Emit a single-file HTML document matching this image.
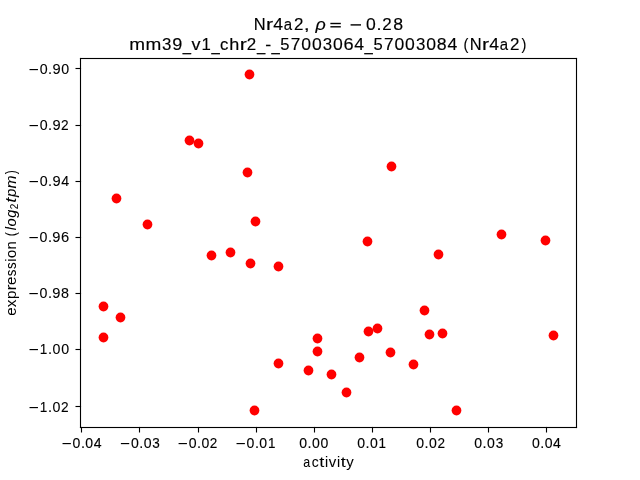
<!DOCTYPE html>
<html><head><meta charset="utf-8"><title>Nr4a2 scatter</title><style>
html,body{margin:0;padding:0;background:#fff;width:640px;height:480px;overflow:hidden}
svg{display:block;will-change:transform}
text{font-family:"Liberation Sans",sans-serif;fill:#000;stroke:#000;stroke-width:0.05px}
.tt text{stroke-width:0.15px}
.xt text{stroke-width:0.13px}
.yt text{stroke-width:0.1px}
.yl text{stroke-width:0.02px}
.xl text{stroke-width:0.05px}
</style></head><body>
<svg width="640" height="480" viewBox="0 0 640 480">
<rect width="640" height="480" fill="#fff"/>
<g fill="#000">
<rect x="79.945" y="57.945" width="497.110" height="1.110"/>
<rect x="79.945" y="426.945" width="497.110" height="1.110"/>
<rect x="79.945" y="57.945" width="1.110" height="370.110"/>
<rect x="575.945" y="57.945" width="1.110" height="370.110"/>
<rect x="80.945" y="426.945" width="1.110" height="5.555"/>
<rect x="138.945" y="426.945" width="1.110" height="5.555"/>
<rect x="197.945" y="426.945" width="1.110" height="5.555"/>
<rect x="255.945" y="426.945" width="1.110" height="5.555"/>
<rect x="313.945" y="426.945" width="1.110" height="5.555"/>
<rect x="371.945" y="426.945" width="1.110" height="5.555"/>
<rect x="429.945" y="426.945" width="1.110" height="5.555"/>
<rect x="487.945" y="426.945" width="1.110" height="5.555"/>
<rect x="545.945" y="426.945" width="1.110" height="5.555"/>
<rect x="75.500" y="67.945" width="5.555" height="1.110"/>
<rect x="75.500" y="124.945" width="5.555" height="1.110"/>
<rect x="75.500" y="180.945" width="5.555" height="1.110"/>
<rect x="75.500" y="236.945" width="5.555" height="1.110"/>
<rect x="75.500" y="292.945" width="5.555" height="1.110"/>
<rect x="75.500" y="348.945" width="5.555" height="1.110"/>
<rect x="75.500" y="405.945" width="5.555" height="1.110"/>
</g>
<g fill="#ff0000">
<circle cx="249.50" cy="74.50" r="4.88"/>
<circle cx="189.50" cy="140.50" r="4.88"/>
<circle cx="198.50" cy="143.50" r="4.88"/>
<circle cx="247.50" cy="172.50" r="4.88"/>
<circle cx="391.50" cy="166.50" r="4.88"/>
<circle cx="116.50" cy="198.50" r="4.88"/>
<circle cx="255.50" cy="221.50" r="4.88"/>
<circle cx="147.50" cy="224.50" r="4.88"/>
<circle cx="367.50" cy="241.50" r="4.88"/>
<circle cx="501.50" cy="234.50" r="4.88"/>
<circle cx="545.50" cy="240.50" r="4.88"/>
<circle cx="211.50" cy="255.50" r="4.88"/>
<circle cx="230.50" cy="252.50" r="4.88"/>
<circle cx="250.50" cy="263.50" r="4.88"/>
<circle cx="278.50" cy="266.50" r="4.88"/>
<circle cx="438.50" cy="254.50" r="4.88"/>
<circle cx="103.50" cy="306.50" r="4.88"/>
<circle cx="120.50" cy="317.50" r="4.88"/>
<circle cx="424.50" cy="310.50" r="4.88"/>
<circle cx="368.50" cy="331.50" r="4.88"/>
<circle cx="377.50" cy="328.50" r="4.88"/>
<circle cx="103.50" cy="337.50" r="4.88"/>
<circle cx="317.50" cy="338.50" r="4.88"/>
<circle cx="429.50" cy="334.50" r="4.88"/>
<circle cx="442.50" cy="333.50" r="4.88"/>
<circle cx="553.50" cy="335.50" r="4.88"/>
<circle cx="317.50" cy="351.50" r="4.88"/>
<circle cx="390.50" cy="352.50" r="4.88"/>
<circle cx="359.50" cy="357.50" r="4.88"/>
<circle cx="278.50" cy="363.50" r="4.88"/>
<circle cx="413.50" cy="364.50" r="4.88"/>
<circle cx="308.50" cy="370.50" r="4.88"/>
<circle cx="331.50" cy="374.50" r="4.88"/>
<circle cx="346.50" cy="392.50" r="4.88"/>
<circle cx="254.50" cy="410.50" r="4.88"/>
<circle cx="456.50" cy="410.50" r="4.88"/>
</g>
<g fill="#000">
<g class="xt">
<rect x="62.53" y="443.00" width="8.35" height="1.16"/>
<text transform="translate(72.62,448.00) scale(0.955,1)" font-size="14.722">0</text>
<text transform="translate(80.88,448.00) scale(0.980,1)" font-size="14.722">.</text>
<text transform="translate(85.34,448.00) scale(0.955,1)" font-size="14.722">0</text>
<text transform="translate(93.82,448.00) scale(0.955,1)" font-size="14.722">4</text>
<rect x="120.89" y="443.00" width="8.35" height="1.16"/>
<text transform="translate(130.98,448.00) scale(0.955,1)" font-size="14.722">0</text>
<text transform="translate(139.24,448.00) scale(0.980,1)" font-size="14.722">.</text>
<text transform="translate(143.70,448.00) scale(0.955,1)" font-size="14.722">0</text>
<text transform="translate(152.35,448.00) scale(0.917,1)" font-size="14.722">3</text>
<rect x="178.58" y="443.00" width="8.35" height="1.16"/>
<text transform="translate(188.67,448.00) scale(0.955,1)" font-size="14.722">0</text>
<text transform="translate(196.93,448.00) scale(0.980,1)" font-size="14.722">.</text>
<text transform="translate(201.39,448.00) scale(0.955,1)" font-size="14.722">0</text>
<text transform="translate(209.84,448.00) scale(0.920,1)" font-size="14.722">2</text>
<rect x="236.53" y="443.00" width="8.35" height="1.16"/>
<text transform="translate(246.62,448.00) scale(0.955,1)" font-size="14.722">0</text>
<text transform="translate(254.88,448.00) scale(0.980,1)" font-size="14.722">.</text>
<text transform="translate(259.34,448.00) scale(0.955,1)" font-size="14.722">0</text>
<text transform="translate(267.94,448.00) scale(0.912,1)" font-size="14.722">1</text>
<text transform="translate(299.28,448.00) scale(0.955,1)" font-size="14.722">0</text>
<text transform="translate(307.54,448.00) scale(0.980,1)" font-size="14.722">.</text>
<text transform="translate(312.00,448.00) scale(0.955,1)" font-size="14.722">0</text>
<text transform="translate(320.48,448.00) scale(0.955,1)" font-size="14.722">0</text>
<text transform="translate(357.17,448.00) scale(0.955,1)" font-size="14.722">0</text>
<text transform="translate(365.43,448.00) scale(0.980,1)" font-size="14.722">.</text>
<text transform="translate(369.89,448.00) scale(0.955,1)" font-size="14.722">0</text>
<text transform="translate(378.48,448.00) scale(0.912,1)" font-size="14.722">1</text>
<text transform="translate(416.35,448.00) scale(0.955,1)" font-size="14.722">0</text>
<text transform="translate(424.61,448.00) scale(0.980,1)" font-size="14.722">.</text>
<text transform="translate(429.07,448.00) scale(0.955,1)" font-size="14.722">0</text>
<text transform="translate(437.52,448.00) scale(0.920,1)" font-size="14.722">2</text>
<text transform="translate(474.30,448.00) scale(0.955,1)" font-size="14.722">0</text>
<text transform="translate(482.56,448.00) scale(0.980,1)" font-size="14.722">.</text>
<text transform="translate(487.02,448.00) scale(0.955,1)" font-size="14.722">0</text>
<text transform="translate(495.68,448.00) scale(0.917,1)" font-size="14.722">3</text>
<text transform="translate(531.92,448.00) scale(0.955,1)" font-size="14.722">0</text>
<text transform="translate(540.18,448.00) scale(0.980,1)" font-size="14.722">.</text>
<text transform="translate(544.64,448.00) scale(0.955,1)" font-size="14.722">0</text>
<text transform="translate(553.12,448.00) scale(0.955,1)" font-size="14.722">4</text>
</g><g class="yt">
<rect x="29.53" y="69.00" width="8.43" height="1.16"/>
<text transform="translate(39.72,74.00) scale(0.965,1)" font-size="14.722">0</text>
<text transform="translate(48.07,74.00) scale(0.990,1)" font-size="14.722">.</text>
<text transform="translate(52.41,74.00) scale(0.996,1)" font-size="14.722">9</text>
<text transform="translate(61.15,74.00) scale(0.965,1)" font-size="14.722">0</text>
<rect x="29.52" y="125.00" width="8.43" height="1.16"/>
<text transform="translate(39.71,130.00) scale(0.965,1)" font-size="14.722">0</text>
<text transform="translate(48.06,130.00) scale(0.990,1)" font-size="14.722">.</text>
<text transform="translate(52.39,130.00) scale(0.996,1)" font-size="14.722">9</text>
<text transform="translate(61.10,130.00) scale(0.930,1)" font-size="14.722">2</text>
<rect x="29.53" y="181.00" width="8.43" height="1.16"/>
<text transform="translate(39.73,186.00) scale(0.965,1)" font-size="14.722">0</text>
<text transform="translate(48.08,186.00) scale(0.990,1)" font-size="14.722">.</text>
<text transform="translate(52.41,186.00) scale(0.996,1)" font-size="14.722">9</text>
<text transform="translate(61.15,186.00) scale(0.965,1)" font-size="14.722">4</text>
<rect x="29.41" y="237.00" width="8.43" height="1.16"/>
<text transform="translate(39.60,242.00) scale(0.965,1)" font-size="14.722">0</text>
<text transform="translate(47.95,242.00) scale(0.990,1)" font-size="14.722">.</text>
<text transform="translate(52.28,242.00) scale(0.996,1)" font-size="14.722">9</text>
<text transform="translate(60.89,242.00) scale(0.998,1)" font-size="14.722">6</text>
<rect x="29.40" y="293.00" width="8.43" height="1.16"/>
<text transform="translate(39.60,298.00) scale(0.965,1)" font-size="14.722">0</text>
<text transform="translate(47.95,298.00) scale(0.990,1)" font-size="14.722">.</text>
<text transform="translate(52.28,298.00) scale(0.996,1)" font-size="14.722">9</text>
<text transform="translate(60.98,298.00) scale(0.975,1)" font-size="14.722">8</text>
<rect x="29.53" y="349.00" width="8.43" height="1.16"/>
<text transform="translate(39.84,354.00) scale(0.921,1)" font-size="14.722">1</text>
<text transform="translate(48.07,354.00) scale(0.990,1)" font-size="14.722">.</text>
<text transform="translate(52.58,354.00) scale(0.965,1)" font-size="14.722">0</text>
<text transform="translate(61.15,354.00) scale(0.965,1)" font-size="14.722">0</text>
<rect x="29.52" y="407.00" width="8.43" height="1.16"/>
<text transform="translate(39.82,412.00) scale(0.921,1)" font-size="14.722">1</text>
<text transform="translate(48.06,412.00) scale(0.990,1)" font-size="14.722">.</text>
<text transform="translate(52.56,412.00) scale(0.965,1)" font-size="14.722">0</text>
<text transform="translate(61.10,412.00) scale(0.930,1)" font-size="14.722">2</text>
</g><g class="xl">
<text transform="translate(303.30,467.00) scale(0.856,1)" font-size="14.583">a</text>
<text transform="translate(311.69,467.00) scale(0.956,1)" font-size="14.583">c</text>
<text transform="translate(319.29,467.00) scale(1.250,1)" font-size="14.583">t</text>
<text transform="translate(324.95,467.00) scale(0.974,1)" font-size="14.583">i</text>
<text transform="translate(328.81,467.00) scale(1.028,1)" font-size="14.583">v</text>
<text transform="translate(337.03,467.00) scale(0.974,1)" font-size="14.583">i</text>
<text transform="translate(340.67,467.00) scale(1.250,1)" font-size="14.583">t</text>
<text transform="translate(346.35,467.00) scale(1.023,1)" font-size="14.583">y</text>
</g>
<g class="tt">
<text transform="translate(129.25,50.00) scale(1.104,1)" font-size="17.200">m</text>
<text transform="translate(145.49,50.00) scale(1.104,1)" font-size="17.200">m</text>
<text transform="translate(162.10,50.00) scale(0.981,1)" font-size="17.200">3</text>
<text transform="translate(172.27,50.00) scale(1.055,1)" font-size="17.200">9</text>
<text transform="translate(182.74,50.60) scale(0.864,1)" font-size="17.200">_</text>
<text transform="translate(191.45,50.00) scale(1.046,1)" font-size="17.200">v</text>
<text transform="translate(201.43,50.00) scale(0.976,1)" font-size="17.200">1</text>
<text transform="translate(211.54,50.60) scale(0.864,1)" font-size="17.200">_</text>
<text transform="translate(220.02,50.00) scale(0.972,1)" font-size="17.200">c</text>
<text transform="translate(229.23,50.00) scale(1.052,1)" font-size="17.200">h</text>
<text transform="translate(239.63,50.00) scale(1.242,1)" font-size="17.200">r</text>
<text transform="translate(246.76,50.00) scale(0.985,1)" font-size="17.200">2</text>
<text transform="translate(257.06,50.60) scale(0.864,1)" font-size="17.200">_</text>
<text transform="translate(265.34,50.00) scale(1.045,1)" font-size="17.200">-</text>
<text transform="translate(271.40,50.60) scale(0.864,1)" font-size="17.200">_</text>
<text transform="translate(280.30,50.00) scale(0.964,1)" font-size="17.200">5</text>
<text transform="translate(290.77,50.00) scale(0.999,1)" font-size="17.200">7</text>
<text transform="translate(301.30,50.00) scale(1.021,1)" font-size="17.200">0</text>
<text transform="translate(311.90,50.00) scale(1.021,1)" font-size="17.200">0</text>
<text transform="translate(322.72,50.00) scale(0.981,1)" font-size="17.200">3</text>
<text transform="translate(333.11,50.00) scale(1.021,1)" font-size="17.200">0</text>
<text transform="translate(343.54,50.00) scale(1.057,1)" font-size="17.200">6</text>
<text transform="translate(354.31,50.00) scale(1.022,1)" font-size="17.200">4</text>
<text transform="translate(364.57,50.60) scale(0.864,1)" font-size="17.200">_</text>
<text transform="translate(373.46,50.00) scale(0.964,1)" font-size="17.200">5</text>
<text transform="translate(383.93,50.00) scale(0.999,1)" font-size="17.200">7</text>
<text transform="translate(394.46,50.00) scale(1.021,1)" font-size="17.200">0</text>
<text transform="translate(405.06,50.00) scale(1.021,1)" font-size="17.200">0</text>
<text transform="translate(415.88,50.00) scale(0.981,1)" font-size="17.200">3</text>
<text transform="translate(426.27,50.00) scale(1.021,1)" font-size="17.200">0</text>
<text transform="translate(436.82,50.00) scale(1.033,1)" font-size="17.200">8</text>
<text transform="translate(447.48,50.00) scale(1.022,1)" font-size="17.200">4</text>
<text transform="translate(463.42,50.00) scale(0.850,1)" font-size="17.200">(</text>
<text transform="translate(469.76,50.00) scale(0.957,1)" font-size="17.200">N</text>
<text transform="translate(482.03,50.00) scale(1.242,1)" font-size="17.200">r</text>
<text transform="translate(489.20,50.00) scale(1.022,1)" font-size="17.200">4</text>
<text transform="translate(499.76,50.00) scale(0.871,1)" font-size="17.200">a</text>
<text transform="translate(509.98,50.00) scale(0.985,1)" font-size="17.200">2</text>
<text transform="translate(521.39,50.00) scale(0.850,1)" font-size="17.200">)</text>
<text transform="translate(253.79,30.00) scale(0.957,1)" font-size="17.200">N</text>
<text transform="translate(266.06,30.00) scale(1.242,1)" font-size="17.200">r</text>
<text transform="translate(273.23,30.00) scale(1.022,1)" font-size="17.200">4</text>
<text transform="translate(283.79,30.00) scale(0.871,1)" font-size="17.200">a</text>
<text transform="translate(294.01,30.00) scale(0.985,1)" font-size="17.200">2</text>
<text transform="translate(303.73,30.00) scale(1.250,1)" font-size="17.200">,</text>
<text transform="translate(315.47,30.00) scale(1.040,1)" font-size="17.200" font-style="italic">ρ</text>
<rect x="330.37" y="22.80" width="10.43" height="1.40"/>
<rect x="330.37" y="26.10" width="10.43" height="1.40"/>
<rect x="350.57" y="24.20" width="10.43" height="1.40"/>
<text transform="translate(365.96,30.00) scale(1.021,1)" font-size="17.200">0</text>
<text transform="translate(376.56,30.00) scale(1.048,1)" font-size="17.200">.</text>
<text transform="translate(382.35,30.00) scale(0.985,1)" font-size="17.200">2</text>
<text transform="translate(393.32,30.00) scale(1.033,1)" font-size="17.200">8</text>
</g>
<g class="yl" transform="translate(16.00,315.80) rotate(-90)">
<text transform="translate(0.13,0.00) scale(1.029,1)" font-size="14.583">e</text>
<text transform="translate(8.53,0.00) scale(1.056,1)" font-size="14.583">x</text>
<text transform="translate(16.81,0.00) scale(1.036,1)" font-size="14.583">p</text>
<text transform="translate(25.42,0.00) scale(1.220,1)" font-size="14.583">r</text>
<text transform="translate(30.87,0.00) scale(1.029,1)" font-size="14.583">e</text>
<text transform="translate(39.67,0.00) scale(0.913,1)" font-size="14.583">s</text>
<text transform="translate(46.90,0.00) scale(0.913,1)" font-size="14.583">s</text>
<text transform="translate(54.12,0.00) scale(0.974,1)" font-size="14.583">i</text>
<text transform="translate(57.76,0.00) scale(1.012,1)" font-size="14.583">o</text>
<text transform="translate(66.38,0.00) scale(1.027,1)" font-size="14.583">n</text>
<text transform="translate(79.67,0.00) scale(0.850,1)" font-size="14.583">(</text>
<text transform="translate(85.47,0.00) scale(0.991,1)" font-size="14.583" font-style="italic">l</text>
<text transform="translate(89.23,0.00) scale(1.007,1)" font-size="14.583" font-style="italic">o</text>
<text transform="translate(97.99,0.00) scale(0.985,1)" font-size="14.583" font-style="italic">g</text>
<text transform="translate(106.58,2.30) scale(0.968,1)" font-size="10.208">2</text>
<text transform="translate(113.05,0.00) scale(1.250,1)" font-size="14.583" font-style="italic">t</text>
<text transform="translate(118.71,0.00) scale(1.027,1)" font-size="14.583" font-style="italic">p</text>
<text transform="translate(127.42,0.00) scale(1.077,1)" font-size="14.583" font-style="italic">m</text>
<text transform="translate(141.64,0.00) scale(0.850,1)" font-size="14.583">)</text>
</g>
</g>
</svg>
</body></html>
